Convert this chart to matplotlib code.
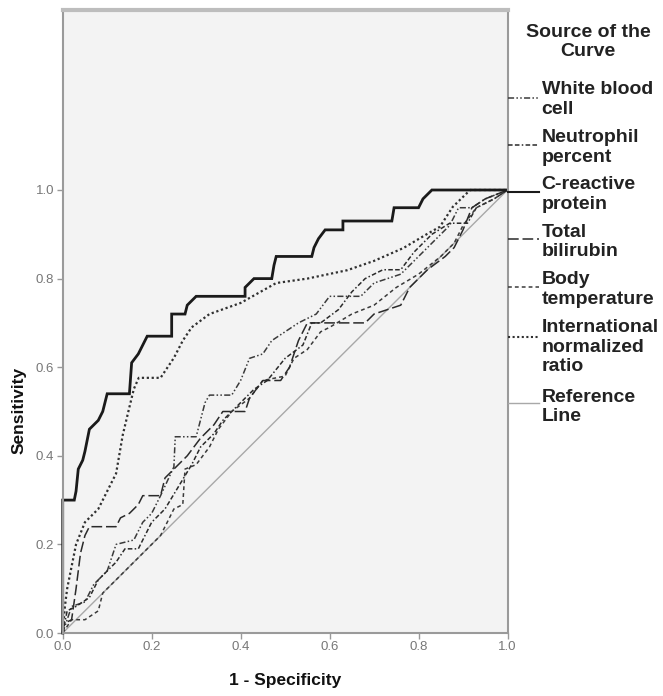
import matplotlib
matplotlib.use("Agg")
import matplotlib.pyplot as plt
from matplotlib.lines import Line2D

plt.rcParams['font.family'] = ['Liberation Sans', 'DejaVu Sans']

# ROC curves (1 - specificity, sensitivity)
wbc_x = [0, 0.01, 0.02, 0.05, 0.07, 0.10, 0.12, 0.16, 0.18, 0.20, 0.22, 0.25, 0.253, 0.30, 0.32, 0.33,
         0.38, 0.40, 0.42, 0.45, 0.47, 0.50, 0.53, 0.57, 0.60, 0.67, 0.70, 0.76, 0.80, 0.84, 0.87, 0.89,
         0.92, 0.95, 1.0]
wbc_y = [0, 0.03, 0.06, 0.07, 0.11, 0.14, 0.20, 0.21, 0.25, 0.27, 0.31, 0.375, 0.443, 0.443, 0.52, 0.537,
         0.537, 0.57, 0.62, 0.63, 0.66, 0.68, 0.70, 0.72, 0.76, 0.76, 0.79, 0.81, 0.85, 0.89, 0.92, 0.96,
         0.96, 0.98, 1.0]

neut_x = [0, 0.01, 0.03, 0.06, 0.08, 0.12, 0.14, 0.17, 0.20, 0.23, 0.26, 0.29, 0.31, 0.34, 0.36, 0.40,
          0.43, 0.46, 0.50, 0.54, 0.56, 0.58, 0.62, 0.65, 0.68, 0.72, 0.76, 0.79, 0.83, 0.87, 0.91, 0.93,
          0.97, 1.0]
neut_y = [0, 0.05, 0.06, 0.08, 0.12, 0.16, 0.19, 0.19, 0.25, 0.28, 0.33, 0.38, 0.42, 0.45, 0.48, 0.52,
          0.55, 0.57, 0.62, 0.65, 0.70, 0.70, 0.73, 0.77, 0.80, 0.82, 0.82, 0.86, 0.90, 0.925, 0.925, 0.96,
          0.98, 1.0]

crp_x = [0, 0, 0.026, 0.03, 0.035, 0.045, 0.05, 0.06, 0.08, 0.09, 0.10, 0.15, 0.155, 0.17, 0.18, 0.19,
         0.245, 0.245, 0.275, 0.28, 0.30, 0.41, 0.41, 0.43, 0.47, 0.475, 0.48, 0.56, 0.565, 0.575, 0.59,
         0.63, 0.63, 0.74, 0.745, 0.80, 0.81, 0.83, 1.0]
crp_y = [0, 0.30, 0.30, 0.32, 0.37, 0.39, 0.41, 0.46, 0.48, 0.50, 0.54, 0.54, 0.61, 0.63, 0.65, 0.67,
         0.67, 0.72, 0.72, 0.74, 0.76, 0.76, 0.78, 0.80, 0.80, 0.83, 0.85, 0.85, 0.87, 0.89, 0.91,
         0.91, 0.93, 0.93, 0.96, 0.96, 0.98, 1.0, 1.0]

tbil_x = [0, 0, 0.02, 0.03, 0.04, 0.05, 0.06, 0.12, 0.13, 0.15, 0.17, 0.18, 0.22, 0.23, 0.25, 0.28,
          0.31, 0.34, 0.36, 0.41, 0.42, 0.45, 0.49, 0.51, 0.53, 0.55, 0.68, 0.70, 0.76, 0.78, 0.82, 0.86,
          0.88, 0.90, 0.92, 0.95, 1.0]
tbil_y = [0, 0.02, 0.03, 0.10, 0.18, 0.22, 0.24, 0.24, 0.26, 0.27, 0.29, 0.31, 0.31, 0.35, 0.37, 0.40,
          0.44, 0.47, 0.50, 0.50, 0.53, 0.57, 0.57, 0.60, 0.66, 0.70, 0.70, 0.72, 0.74, 0.78, 0.82, 0.85,
          0.87, 0.91, 0.96, 0.98, 1.0]

temp_x = [0, 0.02, 0.05, 0.08, 0.09, 0.12, 0.15, 0.18, 0.22, 0.25, 0.27, 0.275, 0.30, 0.33, 0.35, 0.38,
          0.42, 0.45, 0.50, 0.52, 0.55, 0.58, 0.60, 0.65, 0.70, 0.75, 0.80, 0.85, 0.88, 0.90, 0.93, 0.97,
          1.0]
temp_y = [0, 0.03, 0.03, 0.05, 0.09, 0.12, 0.15, 0.18, 0.22, 0.28, 0.29, 0.37, 0.38, 0.42, 0.46, 0.50,
          0.53, 0.57, 0.58, 0.62, 0.64, 0.68, 0.69, 0.72, 0.74, 0.78, 0.81, 0.85, 0.88, 0.92, 0.96, 0.98,
          1.0]

inr_x = [0, 0.005, 0.01, 0.02, 0.03, 0.05, 0.08, 0.10, 0.12, 0.135, 0.15, 0.16, 0.171, 0.22, 0.25, 0.27,
         0.29, 0.33, 0.40, 0.48, 0.55, 0.64, 0.70, 0.766, 0.818, 0.848, 0.877, 0.916, 1.0]
inr_y = [0, 0.06, 0.10, 0.15, 0.20, 0.25, 0.28, 0.32, 0.36, 0.447, 0.51, 0.551, 0.576, 0.576, 0.621,
         0.66, 0.69, 0.72, 0.745, 0.79, 0.80, 0.819, 0.84, 0.869, 0.90, 0.917, 0.962, 1.0, 1.0]

ref_x = [0, 1]
ref_y = [0, 1]

legend_labels = ["White blood\ncell", "Neutrophil\npercent", "C-reactive\nprotein", "Total\nbilirubin",
                 "Body\ntemperature", "International\nnormalized\nratio", "Reference\nLine"]
ticks = [0.0, 0.2, 0.4, 0.6, 0.8, 1.0]

W, H = 663, 696
fig = plt.figure(figsize=(W / 100, H / 100), dpi=100)
ax = fig.add_axes([62.7 / W, 1 - 633 / H, 444.8 / W, 623 / H])
ax.set_facecolor('#f3f3f3')

styles = [
    dict(color='#3a3a3a', lw=1.1, ls=(0, (4, 1.5, 1, 1.5, 1, 1.5))),
    dict(color='#2a2a2a', lw=1.1, ls=(0, (3, 1.5, 3, 1.5, 1, 1.5))),
    dict(color='#1a1a1a', lw=2.0, ls='-'),
    dict(color='#2a2a2a', lw=1.1, ls=(0, (7, 2.5))),
    dict(color='#3a3a3a', lw=1.1, ls=(0, (2.5, 2))),
    dict(color='#303030', lw=1.6, ls=(0, (1, 1.2))),
    dict(color='#a8a8a8', lw=1.0, ls='-'),
]
curves = [(wbc_x, wbc_y), (neut_x, neut_y), (crp_x, crp_y), (tbil_x, tbil_y),
          (temp_x, temp_y), (inr_x, inr_y), (ref_x, ref_y)]

order = [6, 0, 1, 4, 3, 5, 2]
for i in order:
    xs, ys = curves[i]
    ax.plot(xs, ys, color=styles[i]['color'], lw=styles[i]['lw'], ls=styles[i]['ls'],
            solid_joinstyle='miter', clip_on=False)

ax.set_xlim(0, 1)
ax.set_ylim(0, 623 / 443)
ax.set_xticks(ticks)
ax.set_yticks(ticks)
ax.set_xticklabels([f"{t:.1f}" for t in ticks])
ax.set_yticklabels([f"{t:.1f}" for t in ticks])
ax.tick_params(length=4, width=1, color='#999999', labelsize=9.5, labelcolor='#777777', pad=2)

for side in ['left', 'bottom', 'right']:
    ax.spines[side].set_color('#9a9a9a')
    ax.spines[side].set_linewidth(1.5)
ax.spines['top'].set_color('#bdbdbd')
ax.spines['top'].set_linewidth(3)

fig.text(19 / W, 1 - 410 / H, "Sensitivity", rotation=90, ha='center', va='center',
         fontsize=12.5, fontweight='bold', color='#111111')
fig.text(285 / W, 1 - 681 / H, "1 - Specificity", ha='center', va='center',
         fontsize=12.5, fontweight='bold', color='#111111')

# legend, outside on the right
fig.text(588 / W, 1 - 41.7 / H, "Source of the\nCurve", ha='center', va='center',
         fontsize=14, fontweight='bold', color='#222222', linespacing=1.15)
line_y = [97.7, 145, 191.7, 239, 287, 337, 403]
text_y = [99.5, 147.5, 194.5, 242, 289.5, 347, 407]
for i, lab in enumerate(legend_labels):
    st = styles[i]
    yy = 1 - line_y[i] / H
    fig.add_artist(Line2D([508 / W, 539 / W], [yy, yy], color=st['color'],
                          lw=min(st['lw'], 1.5), ls=st['ls']))
    fig.text(541.5 / W, 1 - text_y[i] / H, lab, ha='left', va='center', fontsize=14,
             fontweight='bold', color='#222222', linespacing=1.2)

plt.savefig("out.png", dpi=100)
